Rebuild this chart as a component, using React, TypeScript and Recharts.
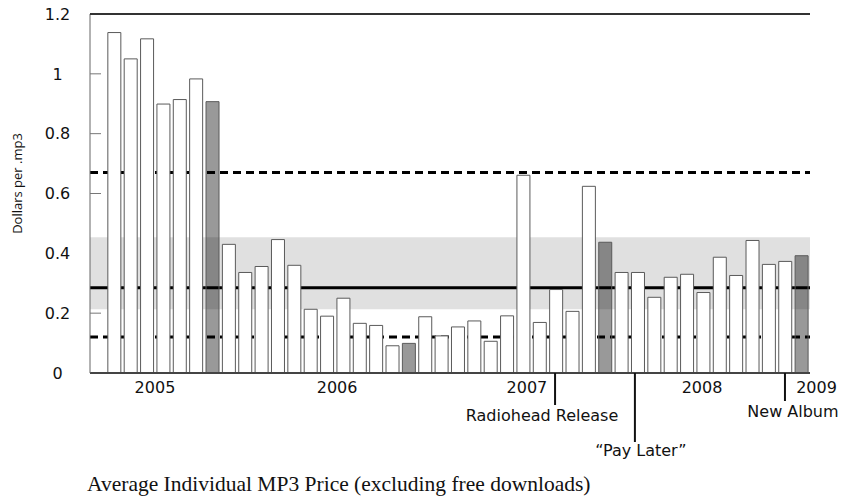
import React from "react";
import {
  BarChart,
  Bar,
  Cell,
  XAxis,
  YAxis,
  ReferenceLine,
  ReferenceArea,
  Label,
} from "recharts";

// one slot per period, the first slot has no reading
const periods = Array.from({ length: 44 }, (_, i) => i + 1);
const avgPrice: (number | null)[] = [
  null, 1.138, 1.05, 1.117, 0.899, 0.914, 0.983, 0.907,
  0.43, 0.336, 0.356, 0.446, 0.36, 0.213, 0.19, 0.25, 0.166,
  0.159, 0.091, 0.099, 0.188, 0.124, 0.154, 0.174, 0.106, 0.191,
  0.661, 0.169, 0.279, 0.206,
  0.624, 0.437, 0.336, 0.336, 0.253, 0.32, 0.33, 0.269, 0.387,
  0.326, 0.443, 0.363, 0.373, 0.392,
];
const highlightPeriods = [8, 20, 32, 44];

const yTicks = [0, 0.2, 0.4, 0.6, 0.8, 1, 1.2];
// positions on the period scale
const yearLabels = ["2005", "2006", "2007", "2008", "2009"];
const yearAt = [4.47, 15.6, 27.2, 37.9, 44.9];
const eventLabels = ["Radiohead Release", "\u201cPay Later\u201d", "New Album"];
const eventAt = [28.92, 33.8, 42.97];

const upperBound = 0.67;
const meanPrice = 0.285;
const lowerBound = 0.12;
const bandLow = 0.213;
const bandHigh = 0.454;

const data = periods.map((p, i) => ({ period: p, price: avgPrice[i] }));

const FONT = "'DejaVu Sans', sans-serif";

// per-event callout style: line length, label offset
const eventStyle = [
  { len: 32, dx: -13, dy: 48 },
  { len: 69, dx: 6, dy: 83 },
  { len: 28, dx: 8, dy: 44 },
];

function LeftTick(props: any) {
  const { x, y, payload } = props;
  const v = payload.value;
  const showLine = v > 0 && v < 1.2 && !(v > bandLow && v < bandHigh);
  return (
    <g>
      <text
        x={x - 32.5}
        y={y}
        dy="0.36em"
        textAnchor="middle"
        fontSize={16}
        fontFamily={FONT}
        fill="#111"
      >
        {String(v)}
      </text>
      {showLine && <line x1={x} x2={x + 11} y1={y} y2={y} stroke="#777" />}
    </g>
  );
}

function RightTick(props: any) {
  const { x, y, payload } = props;
  const v = payload.value;
  const showLine = v > 0 && v < 1.2 && !(v > bandLow && v < bandHigh);
  if (!showLine) return <g />;
  return <line x1={x - 10} x2={x} y1={y} y2={y} stroke="#888" />;
}

function TimeTick(props: any) {
  const { x, y, index } = props;
  if (index < yearLabels.length) {
    return (
      <text
        x={x}
        y={y + 20}
        textAnchor="middle"
        fontSize={16}
        fontFamily={FONT}
        fill="#111"
      >
        {yearLabels[index]}
      </text>
    );
  }
  const k = index - yearLabels.length;
  const s = eventStyle[k];
  return (
    <g>
      <line x1={x} x2={x} y1={y} y2={y + s.len} stroke="#111" strokeWidth={2} />
      <text
        x={x + s.dx}
        y={y + s.dy}
        textAnchor="middle"
        fontSize={16}
        fontFamily={FONT}
        fill="#111"
      >
        {eventLabels[k]}
      </text>
    </g>
  );
}

function YTitle() {
  const cx = 13.5;
  const cy = 175.5;
  return (
    <text
      x={cx}
      y={cy}
      transform={`rotate(-90, ${cx}, ${cy})`}
      textAnchor="middle"
      fontSize={13}
      fontFamily="'Open Sans', sans-serif"
      fill="#111"
    >
      Dollars per .mp3
    </text>
  );
}

export default function App() {
  return (
    <div style={{ position: "relative", width: 841, height: 489 }}>
      <BarChart
        width={841}
        height={481}
        data={data}
        margin={{ top: 6, right: 39, left: 0, bottom: 36 }}
        barCategoryGap="9%"
        style={{ overflow: "visible" }}
      >
        <XAxis xAxisId="cat" dataKey="period" hide height={0} />
        <XAxis
          xAxisId="time"
          dataKey="period"
          type="number"
          domain={[0.5, 44.5]}
          allowDataOverflow
          ticks={[...yearAt, ...eventAt]}
          interval={0}
          tickSize={0}
          tickMargin={0}
          tickLine={false}
          axisLine={{ stroke: "#444", strokeWidth: 2 }}
          tick={(p: any) => <TimeTick {...p} />}
          height={80}
        />
        <YAxis
          yAxisId="left"
          domain={[0, 1.2]}
          allowDataOverflow
          ticks={yTicks}
          interval={0}
          width={82}
          tickSize={0}
          tickMargin={0}
          tickLine={false}
          axisLine={{ stroke: "#666" }}
          tick={(p: any) => <LeftTick {...p} />}
        >
          <Label content={() => <YTitle />} />
        </YAxis>
        <YAxis
          yAxisId="right"
          orientation="right"
          domain={[0, 1.2]}
          allowDataOverflow
          ticks={yTicks}
          interval={0}
          width={0}
          tickSize={0}
          tickMargin={0}
          tickLine={false}
          axisLine={{ stroke: "#111", strokeWidth: 2 }}
          tick={(p: any) => <RightTick {...p} />}
        />
        <ReferenceArea
          xAxisId="cat"
          yAxisId="left"
          y1={bandLow}
          y2={bandHigh}
          fill="#e0e0e0"
          fillOpacity={1}
          stroke="none"
          zIndex={150}
        />
        <ReferenceLine
          xAxisId="cat"
          yAxisId="left"
          y={upperBound}
          stroke="#000"
          strokeWidth={3}
          strokeDasharray="8 5"
          zIndex={160}
        />
        <ReferenceLine
          xAxisId="cat"
          yAxisId="left"
          y={meanPrice}
          stroke="#000"
          strokeWidth={3}
          zIndex={160}
        />
        <ReferenceLine
          xAxisId="cat"
          yAxisId="left"
          y={lowerBound}
          stroke="#000"
          strokeWidth={3}
          strokeDasharray="8 5"
          zIndex={160}
        />
        <ReferenceLine
          xAxisId="cat"
          yAxisId="left"
          y={1.2}
          stroke="#333"
          strokeWidth={2}
          zIndex={600}
        />
        <Bar
          xAxisId="cat"
          yAxisId="left"
          dataKey="price"
          stroke="#5a5a5a"
          strokeWidth={1}
          isAnimationActive={false}
        >
          {data.map((d) => {
            const hi = highlightPeriods.includes(d.period);
            return (
              <Cell
                key={d.period}
                fill={hi ? "#000" : "#fff"}
                fillOpacity={hi ? 0.4 : 1}
              />
            );
          })}
        </Bar>
      </BarChart>
      <div
        style={{
          position: "absolute",
          left: 79,
          top: 466,
          fontFamily: "'Liberation Serif', serif",
          fontSize: 21.5,
          lineHeight: 1,
          whiteSpace: "nowrap",
          color: "#111",
        }}
      >
        Average Individual MP3 Price (excluding free downloads)
      </div>
    </div>
  );
}
